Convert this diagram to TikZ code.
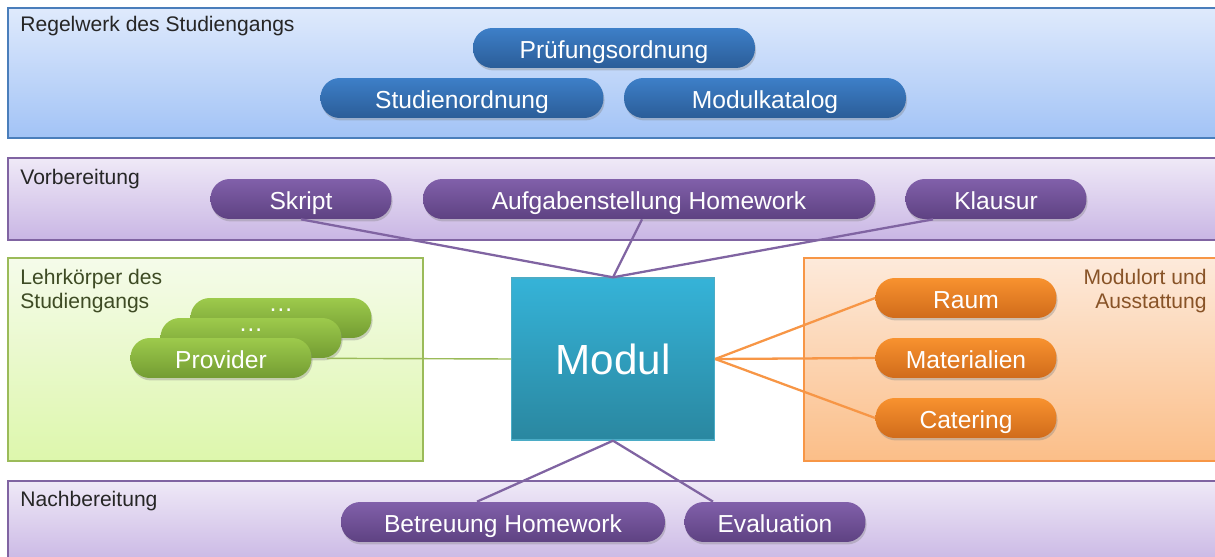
\documentclass[tikz,border=0pt]{standalone}
\usepackage{fontspec}
\setmainfont{Liberation Sans}
\usetikzlibrary{shadows,calc}
\definecolor{regelrand}{HTML}{4A7EBB}
\definecolor{regeloben}{HTML}{DFEAFC}
\definecolor{regelunten}{HTML}{A2C3F6}
\definecolor{lilarand}{HTML}{8064A2}
\definecolor{lilaoben}{HTML}{EFE9F7}
\definecolor{lilaunten}{HTML}{C9B6E4}
\definecolor{gruenrand}{HTML}{9BBB59}
\definecolor{gruenoben}{HTML}{F5FBEA}
\definecolor{gruenunten}{HTML}{DDF7AC}
\definecolor{orangerand}{HTML}{F79646}
\definecolor{orangeoben}{HTML}{FDEADB}
\definecolor{orangeunten}{HTML}{FBBE88}
\definecolor{blaupillO}{HTML}{3D7FC8}
\definecolor{blaupillU}{HTML}{2B5D98}
\definecolor{lilapillO}{HTML}{8160AA}
\definecolor{lilapillU}{HTML}{5E4282}
\definecolor{gruenpillO}{HTML}{9DCA4C}
\definecolor{gruenpillU}{HTML}{739C32}
\definecolor{orangepillO}{HTML}{F8922F}
\definecolor{orangepillU}{HTML}{D06B1B}
\definecolor{modulO}{HTML}{35B3D8}
\definecolor{modulU}{HTML}{2A87A0}
\definecolor{modulrand}{HTML}{4BACC6}
\tikzset{
	band/.style={line width=1pt},
	titel/.style={inner sep=0pt, font=\fontsize{12}{13.6}\selectfont, text=black!85},
	pill/.style={rounded corners=11pt, minimum width=3.62cm, minimum height=0.8cm, text=white,
		font=\fontsize{14}{16}\selectfont, text height=11.5pt, text depth=0pt,
		drop shadow={opacity=0.35, shadow xshift=0.6pt, shadow yshift=-1.4pt}},
	blaupill/.style={pill, top color=blaupillO, bottom color=blaupillU},
	lilapill/.style={pill, top color=lilapillO, bottom color=lilapillU},
	gruenpill/.style={pill, top color=gruenpillO, bottom color=gruenpillU},
	orangepill/.style={pill, top color=orangepillO, bottom color=orangepillU},
	lilalinie/.style={draw=lilarand, line width=1.3pt},
	orangelinie/.style={draw=orangerand, line width=1.3pt},
	gruenlinie/.style={draw=gruenrand, line width=0.8pt}
}
\begin{document}
\begin{tikzpicture}[x=0.02cm, y=-0.02cm]
	\useasboundingbox (0,0) rectangle (1215,557);
	\draw[band, draw=regelrand, top color=regeloben, bottom color=regelunten] (8,8) rectangle (1222,138);
	\draw[band, draw=lilarand, top color=lilaoben, bottom color=lilaunten] (8,158) rectangle (1222,240);
	\draw[band, draw=gruenrand, top color=gruenoben, bottom color=gruenunten] (8,258) rectangle (423,461);
	\draw[band, draw=orangerand, top color=orangeoben, bottom color=orangeunten] (804,258) rectangle (1222,461);
	\draw[band, draw=lilarand, top color=lilaoben, bottom color=lilaunten] (8,481) rectangle (1222,565);
	\node[titel, anchor=base west] (regelwerk) at (20,32) {Regelwerk des Studiengangs};
	\node[titel, anchor=base west] (vorbereitung) at (20,185) {Vorbereitung};
	\node[titel, anchor=north west, align=left, text=gruenrand!40!black] (lehrkoerper) at (20,269) {Lehrkörper des\\Studiengangs};
	\node[titel, anchor=north east, align=right, text=orangerand!55!black] (modulort) at (1207,269) {Modulort und\\Ausstattung};
	\node[titel, anchor=base west] (nachbereitung) at (20,506) {Nachbereitung};
	\node[blaupill, minimum width=5.64cm] (pruefung) at (614,48) {Prüfungsordnung};
	\node[blaupill, minimum width=5.66cm] (studien) at (462,98) {Studienordnung};
	\node[blaupill, minimum width=5.64cm] (katalog) at (765,98) {Modulkatalog};
	\node[lilapill] (skript) at (301,199) {Skript};
	\node[lilapill, minimum width=9.04cm] (aufgabe) at (649,199) {Aufgabenstellung Homework};
	\node[lilapill] (klausur) at (996,199) {Klausur};
	\node[gruenpill, text height=0pt] (punkteB) at (281,318) {\raisebox{3.5pt}[0pt][0pt]{…}};
	\node[gruenpill, text height=0pt] (punkteA) at (251,338) {\raisebox{3.5pt}[0pt][0pt]{…}};
	\node[gruenpill] (provider) at (221,358) {Provider};
	\node[orangepill] (raum) at (966,298) {Raum};
	\node[orangepill] (material) at (966,358) {Materialien};
	\node[orangepill] (catering) at (966,418) {Catering};
	\node[lilapill, minimum width=6.48cm] (betreuung) at (503,522) {Betreuung Homework};
	\node[lilapill] (evaluation) at (775,522) {Evaluation};
	\node[draw=modulrand, line width=0.8pt, top color=modulO, bottom color=modulU, minimum width=4.06cm,
		minimum height=3.24cm, text=white, font=\fontsize{24}{28}\selectfont] (modul) at (613,359) {Modul};
	\draw[lilalinie] (skript.south) -- (modul.north);
	\draw[lilalinie] ($(aufgabe.south)+(-7,0)$) -- (modul.north);
	\draw[lilalinie] ($(klausur.south)+(-63,0)$) -- (modul.north);
	\draw[lilalinie] (modul.south) -- ($(betreuung.north)+(-26,0)$);
	\draw[lilalinie] (modul.south) -- ($(evaluation.north)+(-62,0)$);
	\draw[gruenlinie] (modul.west) -- ($(punkteA.south east)+(-15,0)$);
	\draw[orangelinie] (modul.east) -- (raum.west);
	\draw[orangelinie] (modul.east) -- (material.west);
	\draw[orangelinie] (modul.east) -- (catering.west);
\end{tikzpicture}
\end{document}
